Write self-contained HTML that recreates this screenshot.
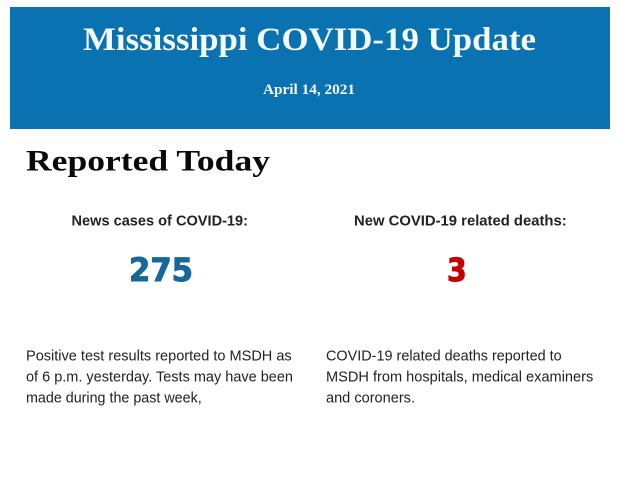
<!DOCTYPE html>
<html>
<head>
<meta charset="utf-8">
<style>
  html, body { margin: 0; padding: 0; background: #ffffff; }
  body { width: 620px; height: 483px; overflow: hidden; }
  svg { display: block; }
</style>
</head>
<body>
<svg width="620" height="483" viewBox="0 0 620 483" xmlns="http://www.w3.org/2000/svg">
  <rect x="0" y="0" width="620" height="483" fill="#ffffff"/>
  <rect x="10" y="7" width="600" height="122" fill="#0a72b0"/>

  <text x="309.5" y="50" text-anchor="middle" font-family="'Liberation Serif', serif" font-weight="bold" font-size="33" fill="#f4fbff" textLength="453" lengthAdjust="spacingAndGlyphs">Mississippi COVID-19 Update</text>
  <text x="309" y="94" text-anchor="middle" font-family="'Liberation Serif', serif" font-weight="bold" font-size="15" fill="#f4fbff" textLength="92" lengthAdjust="spacingAndGlyphs">April 14, 2021</text>

  <text x="26" y="170.5" font-family="'Liberation Serif', serif" font-weight="bold" font-size="30" fill="#0a0a0a" textLength="244" lengthAdjust="spacingAndGlyphs">Reported Today</text>

  <text x="71.5" y="225.7" font-family="'Liberation Sans', sans-serif" font-weight="bold" font-size="14.5" fill="#222222" textLength="176.5" lengthAdjust="spacingAndGlyphs">News cases of COVID-19:</text>
  <text x="354" y="225.7" font-family="'Liberation Sans', sans-serif" font-weight="bold" font-size="14.5" fill="#222222" textLength="212.7" lengthAdjust="spacingAndGlyphs">New COVID-19 related deaths:</text>

  <text x="129" y="281" font-family="'DejaVu Sans', sans-serif" font-weight="bold" font-size="32" fill="#17679b" stroke="#17679b" stroke-width="1" textLength="64" lengthAdjust="spacingAndGlyphs">275</text>
  <text x="447" y="281" font-family="'DejaVu Sans', sans-serif" font-weight="bold" font-size="32" fill="#c40000" stroke="#c40000" stroke-width="1" textLength="19.7" lengthAdjust="spacingAndGlyphs">3</text>

  <g font-family="'Liberation Sans', sans-serif" font-size="15" fill="#222222">
    <text x="26" y="360.7" textLength="265.7" lengthAdjust="spacingAndGlyphs">Positive test results reported to MSDH as</text>
    <text x="26" y="381.5" textLength="267" lengthAdjust="spacingAndGlyphs">of 6 p.m. yesterday. Tests may have been</text>
    <text x="26" y="402.3" textLength="175.7" lengthAdjust="spacingAndGlyphs">made during the past week,</text>

    <text x="326" y="360.7" textLength="235.7" lengthAdjust="spacingAndGlyphs">COVID-19 related deaths reported to</text>
    <text x="326" y="381.5" textLength="267.3" lengthAdjust="spacingAndGlyphs">MSDH from hospitals, medical examiners</text>
    <text x="326" y="402.3" textLength="89" lengthAdjust="spacingAndGlyphs">and coroners.</text>
  </g>
</svg>
</body>
</html>
